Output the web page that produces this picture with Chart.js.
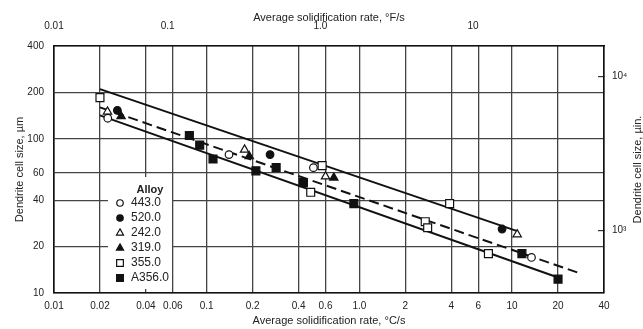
<!DOCTYPE html>
<html lang="en">
<head>
<meta charset="UTF-8">
<title>Dendrite cell size vs solidification rate</title>
<style>
  body { margin: 0; background: #fff; }
  #wrap { width: 643px; height: 329px; }
</style>
</head>
<body>
<div id="wrap"><canvas id="chart" width="643" height="329"></canvas></div>
<script src="https://cdn.jsdelivr.net/npm/chart.js"></script>
<script>
// tick values (bottom axis in °C/s, top axis in °F/s)
const rateTicks = [0.01, 0.02, 0.04, 0.06, 0.1, 0.2, 0.4, 0.6, 1, 2, 4, 6, 10, 20, 40];
const rateLabels = ['0.01', '0.02', '0.04', '0.06', '0.1', '0.2', '0.4', '0.6', '1.0', '2', '4', '6', '10', '20', '40'];
const rateFTicks = [0.018, 0.1, 1, 10];          // first one sits on the left edge, as in the figure
const rateFLabels = ['0.01', '0.1', '1.0', '10'];
const sizeTicks = [10, 20, 40, 60, 100, 200, 400];
const sizeInTicks = [1000, 10000];
const sizeInLabels = ['10³', '10⁴'];

// measured points, per alloy
const alloys = ['443.0', '520.0', '242.0', '319.0', '355.0', 'A356.0'];
const rate443 = [0.0225, 0.14, 0.5, 13.4];
const size443 = [136, 79, 65, 17];
const rate520 = [0.026, 0.26, 8.6];
const size520 = [153, 79, 26];
const rate242 = [0.0224, 0.177, 0.6, 10.8];
const size242 = [150, 85, 57, 24];
const rate319 = [0.0275, 0.19, 0.68];
const size319 = [140, 77, 56];
const rate355 = [0.02, 0.57, 0.48, 2.7, 2.8, 3.9, 7];
const size355 = [185, 67, 45, 29, 26.5, 38, 18];
const rateA356 = [0.077, 0.09, 0.11, 0.21, 0.285, 0.43, 0.92, 11.6, 20];
const sizeA356 = [105, 91, 74, 62, 65, 52, 38, 18, 12.3];

// band lines (end points)
const upperRate = [0.02, 10.7];
const upperSize = [210, 25.3];
const midRate = [0.02, 28.5];
const midSize = [160, 13.3];
const lowerRate = [0.02, 20];
const lowerSize = [142, 12.6];

// unit conversions for the secondary axes
const C_TO_F = 1.8;
const UM_TO_UIN = 39.37;

const pts = (xs, ys) => xs.map((x, i) => ({ x: x, y: ys[i] }));

const markerStyle = ['circle', 'circle', 'triangle', 'triangle', 'rect', 'rect'];
const markerFilled = [false, true, false, true, false, true];
const markerRadius = { circle: 3.8, triangle: 4.8, rect: 5.6 };

const seriesData = [
    pts(rate443, size443), pts(rate520, size520), pts(rate242, size242),
    pts(rate319, size319), pts(rate355, size355), pts(rateA356, sizeA356)
];

const markerSets = alloys.map((name, i) => ({
    label: name,
    data: seriesData[i],
    pointStyle: markerStyle[i],
    pointRadius: markerRadius[markerStyle[i]],
    pointBackgroundColor: markerFilled[i] ? '#111' : '#fff',
    pointBorderColor: '#111',
    pointBorderWidth: 1.2,
    showLine: false,
    order: 0
}));

function bandLine(xs, ys, dash) {
    return {
        label: '',
        data: pts(xs, ys),
        showLine: true,
        borderColor: '#111',
        borderWidth: 2,
        borderDash: dash,
        pointRadius: 0,
        order: 1
    };
}

// legend box with the "Alloy" heading
const alloyLegend = {
    id: 'alloyLegend',
    afterDraw(chart) {
        const ctx = chart.ctx;
        ctx.save();
        ctx.fillStyle = '#fff';
        ctx.fillRect(108, 177, 64, 112);
        ctx.fillStyle = '#222';
        ctx.font = 'bold 11px "Liberation Sans", Arial, sans-serif';
        ctx.textAlign = 'center';
        ctx.textBaseline = 'middle';
        ctx.fillText('Alloy', 150, 190);
        ctx.font = '12px "Liberation Sans", Arial, sans-serif';
        ctx.textAlign = 'left';
        markerSets.forEach((ds, i) => {
            const y = 203 + i * 15;
            ctx.fillStyle = ds.pointBackgroundColor;
            ctx.strokeStyle = ds.pointBorderColor;
            ctx.lineWidth = ds.pointBorderWidth;
            Chart.helpers.drawPoint(ctx, {
                pointStyle: ds.pointStyle, radius: ds.pointRadius * 0.85,
                borderWidth: ds.pointBorderWidth, rotation: 0
            }, 120, y);
            ctx.fillStyle = '#222';
            ctx.fillText(ds.label, 131, y);
        });
        ctx.restore();
    }
};

// right-hand title reads bottom to top, like the left one
const rightTitle = {
    id: 'rightTitle',
    afterDraw(chart) {
        const ctx = chart.ctx;
        const a = chart.chartArea;
        ctx.save();
        ctx.translate(638, (a.top + a.bottom) / 2);
        ctx.rotate(-Math.PI / 2);
        ctx.fillStyle = '#222';
        ctx.font = '11px "Liberation Sans", Arial, sans-serif';
        ctx.textAlign = 'center';
        ctx.textBaseline = 'middle';
        ctx.fillText('Dendrite cell size, µin.', 0, 0);
        ctx.restore();
    }
};

Chart.defaults.font.family = '"Liberation Sans", Arial, sans-serif';
Chart.defaults.font.size = 10;
Chart.defaults.color = '#222';

const gridStyle = { color: '#444', lineWidth: 1.3, drawTicks: false };
const borderStyle = { color: '#111', width: 1.6 };

new Chart(document.getElementById('chart'), {
    type: 'scatter',
    data: {
        datasets: markerSets.concat([
            bandLine(upperRate, upperSize, []),
            bandLine(midRate, midSize, [10, 5]),
            bandLine(lowerRate, lowerSize, [])
        ])
    },
    options: {
        responsive: false,
        animation: false,
        events: [],
        layout: { padding: 0 },
        plugins: { legend: { display: false }, tooltip: { enabled: false } },
        scales: {
            x: {
                type: 'logarithmic', position: 'bottom', min: 0.01, max: 40,
                afterBuildTicks: s => { s.ticks = rateTicks.map(v => ({ value: v })); },
                afterFit: s => { s.height = 36; },
                ticks: {
                    autoSkip: false, maxRotation: 0, padding: 7,
                    callback: v => rateLabels[rateTicks.indexOf(v)]
                },
                grid: gridStyle, border: borderStyle,
                title: { display: true, text: 'Average solidification rate, °C/s', font: { size: 11 }, padding: { top: 0, bottom: 1 } }
            },
            x2: {
                type: 'logarithmic', position: 'top', min: 0.01 * C_TO_F, max: 40 * C_TO_F,
                afterBuildTicks: s => { s.ticks = rateFTicks.map(v => ({ value: v })); },
                afterFit: s => { s.height = 46; },
                ticks: {
                    autoSkip: false, maxRotation: 0, padding: 6,
                    callback: v => rateFLabels[rateFTicks.indexOf(v)]
                },
                grid: { display: false }, border: borderStyle,
                title: { display: true, text: 'Average solidification rate, °F/s', font: { size: 11 }, padding: { top: 11, bottom: 0 } }
            },
            y: {
                type: 'logarithmic', position: 'left', min: 10, max: 400,
                afterBuildTicks: s => { s.ticks = sizeTicks.map(v => ({ value: v })); },
                afterFit: s => { s.width = 54; },
                ticks: { autoSkip: false, padding: 10, callback: v => String(v) },
                grid: gridStyle, border: borderStyle,
                title: { display: true, text: 'Dendrite cell size, µm', font: { size: 11 }, padding: { top: 13, bottom: 0 } }
            },
            y2: {
                type: 'logarithmic', position: 'right', min: 10 * UM_TO_UIN, max: 400 * UM_TO_UIN,
                afterBuildTicks: s => { s.ticks = sizeInTicks.map(v => ({ value: v })); },
                afterFit: s => { s.width = 39; },
                ticks: {
                    autoSkip: false, padding: 14,
                    callback: v => sizeInLabels[sizeInTicks.indexOf(v)]
                },
                grid: { drawOnChartArea: false, drawTicks: true, tickLength: -6, color: '#333', lineWidth: 1.2 },
                border: borderStyle
            }
        }
    },
    plugins: [alloyLegend, rightTitle]
});
</script>
</body>
</html>
